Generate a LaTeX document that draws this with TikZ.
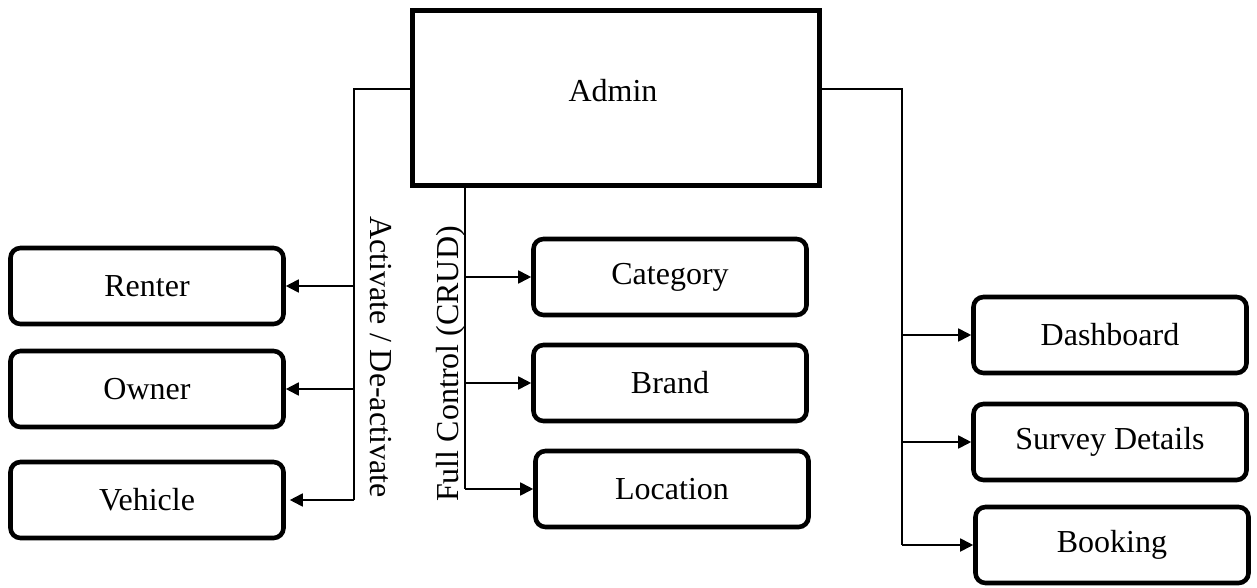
\documentclass[tikz,border=0pt]{standalone}
\usepackage{fontspec}
\setmainfont{Liberation Serif}
\usetikzlibrary{arrows.meta}
\begin{document}
\begin{tikzpicture}[x=0.5pt,y=-0.5pt,
  txt/.style={font=\fontsize{16}{19}\selectfont},
  box/.style={txt, draw, line width=2.3pt, rounded corners=5pt,
    minimum width=136.5pt, minimum height=38pt, inner sep=0pt},
  mainbox/.style={txt, draw, line width=2.6pt, minimum width=203.5pt,
    minimum height=87.5pt, inner sep=0pt},
  link/.style={line width=0.9pt},
  arr/.style={link, -{Triangle[length=6.5pt,width=6.5pt]}}
]
\useasboundingbox (0,0) rectangle (1257,588);

% central node
\node[mainbox] (admin) at (616,98) {};
\node[txt] (admintext) at (613,91) {Admin};

% left column
\node[box] (renter)  at (147,286) {Renter};
\node[box] (owner)   at (147,389) {Owner};
\node[box] (vehicle) at (147,500) {Vehicle};

% middle column
\node[box] (category) at (670,277) {Category};
\node[box] (brand)    at (670,383) {Brand};
\node[box] (location) at (672,489) {Location};

% right column
\node[box] (dashboard) at (1110,335) {Dashboard};
\node[box] (survey)    at (1110,442) {Survey Details};
\node[box] (booking)   at (1112,545) {Booking};

% bus coordinates
\coordinate (lbus) at (354,89);
\coordinate (mbus) at (465,188);
\coordinate (rbus) at (902,89);

% left bus
\draw[link] (admin.west |- lbus) -- (lbus) -- (lbus |- vehicle.east);
\draw[arr] (lbus |- vehicle.east) -- ([xshift=2pt]vehicle.east);
\draw[arr] (lbus |- renter.east) -- (renter.east);
\draw[arr] (lbus |- owner.east) -- (owner.east);

% middle bus
\draw[link] (mbus) -- (mbus |- location.west);
\draw[arr] (mbus |- location.west) -- (location.west);
\draw[arr] (mbus |- category.west) -- (category.west);
\draw[arr] (mbus |- brand.west) -- (brand.west);

% right bus
\draw[link] (admin.east |- rbus) -- (rbus) -- (rbus |- booking.west);
\draw[arr] (rbus |- booking.west) -- (booking.west);
\draw[arr] (rbus |- dashboard.west) -- (dashboard.west);
\draw[arr] (rbus |- survey.west) -- (survey.west);

% bus labels
\node[txt, rotate=-90] (actlabel) at (381,357) {Activate / De-activate};
\node[txt, rotate=90] (crudlabel) at (451,364) {Full Control (CRUD)};
\end{tikzpicture}
\end{document}
